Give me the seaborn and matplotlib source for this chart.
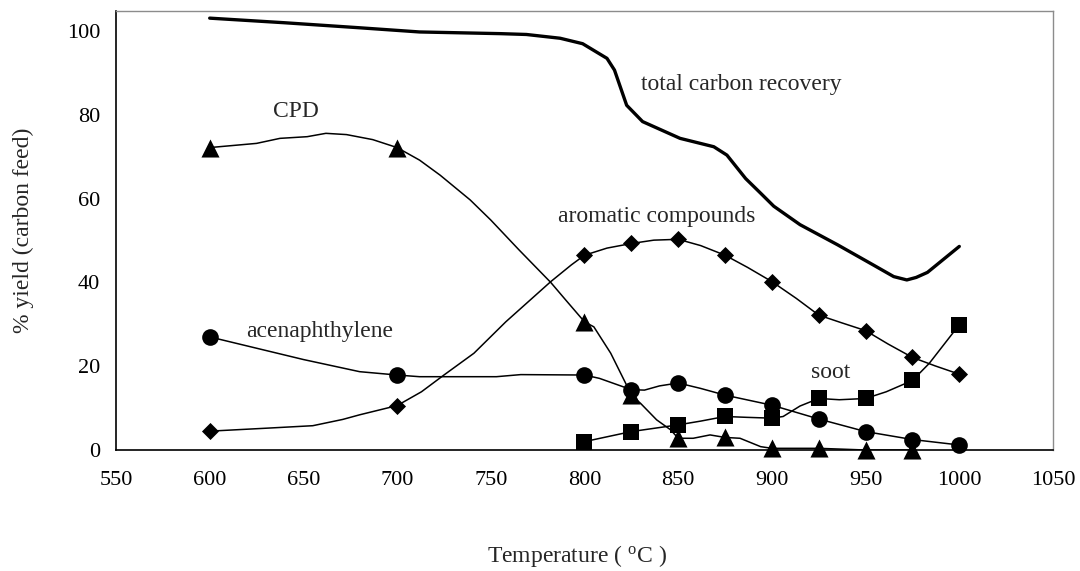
import matplotlib
matplotlib.use("Agg")
import matplotlib.pyplot as plt
import seaborn as sns

# Temperatures with measured points (markers)
temps = [600, 700, 800, 825, 850, 875, 900, 925, 950, 975, 1000]
cpd_temps = [600, 700, 800, 825, 850, 875, 900, 925, 950, 975]
soot_temps = [800, 825, 850, 875, 900, 925, 950, 975, 1000]

cpd = [72.2, 72.2, 30.6, 13.1, 2.8, 3.0, 0.4, 0.4, 0.0, 0.0]
acenaphthylene = [27.0, 17.9, 17.9, 14.4, 16.0, 13.1, 10.7, 7.4, 4.4, 2.5, 1.2]
aromatics = [4.5, 10.6, 46.5, 49.3, 50.3, 46.5, 40.2, 32.2, 28.5, 22.1, 18.1]
soot = [2.0, 4.4, 6.0, 8.0, 7.6, 12.3, 12.3, 16.6, 29.9]

# Smoothed trend curves
total_T = [600, 640, 680, 712, 755, 769, 787, 799, 812, 816, 822.5, 831, 851,
           869, 876, 886, 894, 901, 915, 935, 954, 965, 972, 977, 983, 1000]
total_y = [103.1, 102.0, 100.8, 99.8, 99.4, 99.2, 98.3, 97.0, 93.5, 90.7, 82.3,
           78.4, 74.4, 72.4, 70.4, 64.8, 61.3, 58.2, 53.8, 49.0, 44.2, 41.4,
           40.6, 41.2, 42.4, 48.6]

cpd_T = [600, 625, 637.5, 652, 662, 673, 687, 700, 712, 723, 739, 750, 765,
         782, 790, 800, 805, 814, 822, 825, 830, 838.5, 846, 850, 858, 867,
         875, 883, 894, 900, 925, 950, 975]
cpd_y = [72.2, 73.2, 74.4, 74.8, 75.6, 75.3, 74.1, 72.2, 69.2, 65.6, 59.7,
         54.9, 47.8, 40.0, 35.8, 30.6, 29.4, 23.1, 15.9, 13.1, 11.1, 7.2, 4.8,
         2.8, 2.8, 3.6, 3.0, 2.8, 0.8, 0.4, 0.4, 0.0, 0.0]

acen_T = [600, 625, 650, 680, 700, 712, 753, 766, 800, 808, 825, 832, 840,
          850, 862, 875, 900, 925, 950, 975, 1000]
acen_y = [27.0, 24.3, 21.6, 18.7, 17.9, 17.5, 17.5, 18.0, 17.9, 17.1, 14.4,
          14.3, 15.3, 16.0, 14.7, 13.1, 10.7, 7.4, 4.4, 2.5, 1.2]

arom_T = [600, 630, 655, 671, 680, 700, 713, 725, 741, 758, 773, 782, 793,
          800, 812, 825, 837, 850, 862, 875, 887, 900, 913, 925, 937, 950,
          962, 975, 987, 1000]
arom_y = [4.5, 5.2, 5.8, 7.3, 8.4, 10.6, 13.9, 17.9, 23.1, 30.6, 36.6, 40.2,
          44.2, 46.5, 48.2, 49.3, 50.1, 50.3, 48.8, 46.5, 43.6, 40.2, 36.2,
          32.2, 30.4, 28.5, 25.3, 22.1, 20.1, 18.1]

soot_T = [800, 825, 850, 862, 875, 886.5, 900, 906, 915, 925, 936, 950, 961,
          975, 984, 1000]
soot_y = [2.0, 4.4, 6.0, 6.9, 8.0, 7.8, 7.6, 8.0, 10.5, 12.3, 12.0, 12.3,
          13.9, 16.6, 20.7, 29.9]

x_ticks = [550, 600, 650, 700, 750, 800, 850, 900, 950, 1000, 1050]
y_ticks = [0, 20, 40, 60, 80, 100]

sns.set_theme(style="white")
plt.rcParams["font.family"] = ["Liberation Serif", "DejaVu Serif"]
plt.rcParams["mathtext.fontset"] = "custom"
plt.rcParams["mathtext.rm"] = "Liberation Serif"
plt.rcParams["mathtext.it"] = "Liberation Serif:italic"

TICK_FS = 16
TEXT_FS = 17

fig = plt.figure(figsize=(10.8, 5.71), dpi=100)
ax = fig.add_axes([0.1074, 0.2119, 0.8676, 0.7688])

line_kw = dict(color="black", sort=False, estimator=None, ax=ax, legend=False)
sns.lineplot(x=total_T, y=total_y, linewidth=2.4, **line_kw)
sns.lineplot(x=cpd_T, y=cpd_y, linewidth=1.1, **line_kw)
sns.lineplot(x=acen_T, y=acen_y, linewidth=1.1, **line_kw)
sns.lineplot(x=arom_T, y=arom_y, linewidth=1.1, **line_kw)
sns.lineplot(x=soot_T, y=soot_y, linewidth=1.1, **line_kw)

mk_kw = dict(color="black", edgecolor="black", linewidth=0, ax=ax,
             legend=False, clip_on=False, zorder=5)
sns.scatterplot(x=cpd_temps, y=cpd, marker="^", s=13.0 ** 2, **mk_kw)
sns.scatterplot(x=temps, y=acenaphthylene, marker="o", s=12.0 ** 2, **mk_kw)
sns.scatterplot(x=temps, y=aromatics, marker="D", s=8.7 ** 2, **mk_kw)
sns.scatterplot(x=soot_temps, y=soot, marker="s", s=12.0 ** 2, **mk_kw)

ax.text(830.1, 85.9, "total carbon recovery", fontsize=TEXT_FS, ha="left", va="baseline")
ax.text(633.6, 79.4, "CPD", fontsize=TEXT_FS, ha="left", va="baseline")
ax.text(786.0, 54.5, "aromatic compounds", fontsize=TEXT_FS, ha="left", va="baseline")
ax.text(619.4, 27.0, "acenaphthylene", fontsize=TEXT_FS, ha="left", va="baseline")
ax.text(920.9, 17.1, "soot", fontsize=TEXT_FS, ha="left", va="baseline")

ax.set_xlim(550, 1050)
ax.set_ylim(0, 104.8)
ax.set_xticks(x_ticks)
ax.set_yticks(y_ticks)
ax.tick_params(axis="both", direction="out", colors="black", labelsize=TICK_FS,
               width=1.0)
ax.tick_params(axis="x", length=4, pad=11)
ax.tick_params(axis="y", length=4.5, pad=7)

for side in ("left", "bottom"):
    ax.spines[side].set_color("black")
    ax.spines[side].set_linewidth(1.2)
for side in ("top", "right"):
    ax.spines[side].set_color("#8c8c8c")
    ax.spines[side].set_linewidth(1.0)

ax.set_xlabel("Temperature ( $^{\\mathrm{o}}$C )", fontsize=TEXT_FS)
ax.set_ylabel("% yield (carbon feed)", fontsize=TEXT_FS)
ax.xaxis.set_label_coords(0.492, -0.212)
ax.yaxis.set_label_coords(-0.088, 0.5)

fig.savefig("out.png", dpi=100)
